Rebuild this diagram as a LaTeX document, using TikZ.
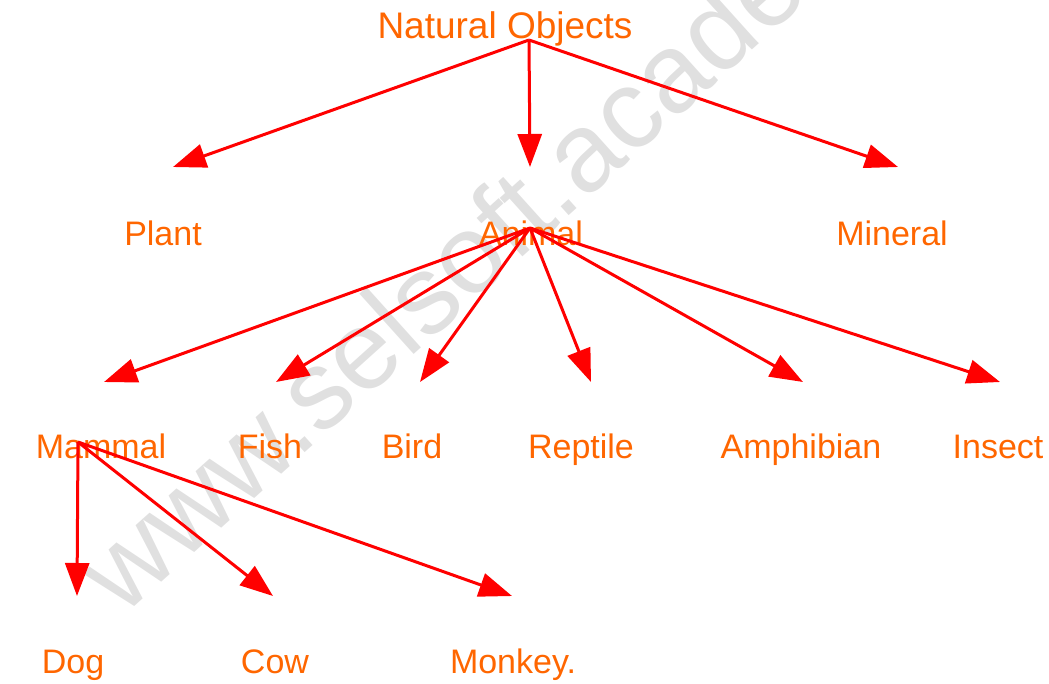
\documentclass[tikz,border=0pt]{standalone}
\usepackage{fontspec}
\setmainfont{Liberation Sans}
\usepackage{xcolor}
\definecolor{vizLabel}{HTML}{FF6600}
\definecolor{vizEdge}{HTML}{FF0000}
\definecolor{vizMark}{HTML}{E0E0E0}
\usetikzlibrary{arrows.meta}

\begin{document}
\begin{tikzpicture}[x=1pt, y=-1pt,
    tag/.style={text=vizLabel, anchor=base, inner sep=0pt, font=\fontsize{34}{34}\selectfont},
    edge/.style={vizEdge, line width=3pt, -{Triangle[length=33pt, width=24pt]}}]
  \useasboundingbox (0,0) rectangle (1049,683);
  % watermark
  \node[text=vizMark, anchor=base west, rotate=42, inner sep=0pt, font=\fontsize{112}{112}\selectfont] (mark) at (122,618) {www.selsoft.academy};
  % labels
  \node[tag, font=\fontsize{37}{37}\selectfont] (root) at (505,38) {Natural Objects};
  \node[tag] (plant) at (163,245) {Plant};
  \node[tag] (animal) at (531,245) {Animal};
  \node[tag] (mineral) at (892,245) {Mineral};
  \node[tag] (mammal) at (101,458) {Mammal};
  \node[tag] (fish) at (270,458) {Fish};
  \node[tag] (bird) at (412,458) {Bird};
  \node[tag] (reptile) at (581,458) {Reptile};
  \node[tag] (amphibian) at (801,458) {Amphibian};
  \node[tag] (insect) at (998,458) {Insect};
  \node[tag] (dog) at (73,673) {Dog};
  \node[tag] (cow) at (275,673) {Cow};
  \node[tag] (monkey) at (513,673) {Monkey.};
  % arrow ends
  \coordinate (root-out) at (529,40);
  \coordinate (animal-out) at (530,228);
  \coordinate (mammal-out) at (78,442);
  \coordinate (plant-in) at (173,167);
  \coordinate (animal-in) at (530,167);
  \coordinate (mineral-in) at (898,167);
  \coordinate (mammal-in) at (104,382);
  \coordinate (fish-in) at (276,382);
  \coordinate (bird-in) at (420,382);
  \coordinate (reptile-in) at (591,382);
  \coordinate (amphibian-in) at (803,382);
  \coordinate (insect-in) at (1000,382);
  \coordinate (dog-in) at (77,596);
  \coordinate (cow-in) at (273,596);
  \coordinate (monkey-in) at (512,596);
  % edges
  \draw[edge] (root-out) -- (plant-in);
  \draw[edge] (root-out) -- (animal-in);
  \draw[edge] (root-out) -- (mineral-in);
  \draw[edge] (animal-out) -- (mammal-in);
  \draw[edge] (animal-out) -- (fish-in);
  \draw[edge] (animal-out) -- (bird-in);
  \draw[edge] (animal-out) -- (reptile-in);
  \draw[edge] (animal-out) -- (amphibian-in);
  \draw[edge] (animal-out) -- (insect-in);
  \draw[edge] (mammal-out) -- (dog-in);
  \draw[edge] (mammal-out) -- (cow-in);
  \draw[edge] (mammal-out) -- (monkey-in);
\end{tikzpicture}
\end{document}
